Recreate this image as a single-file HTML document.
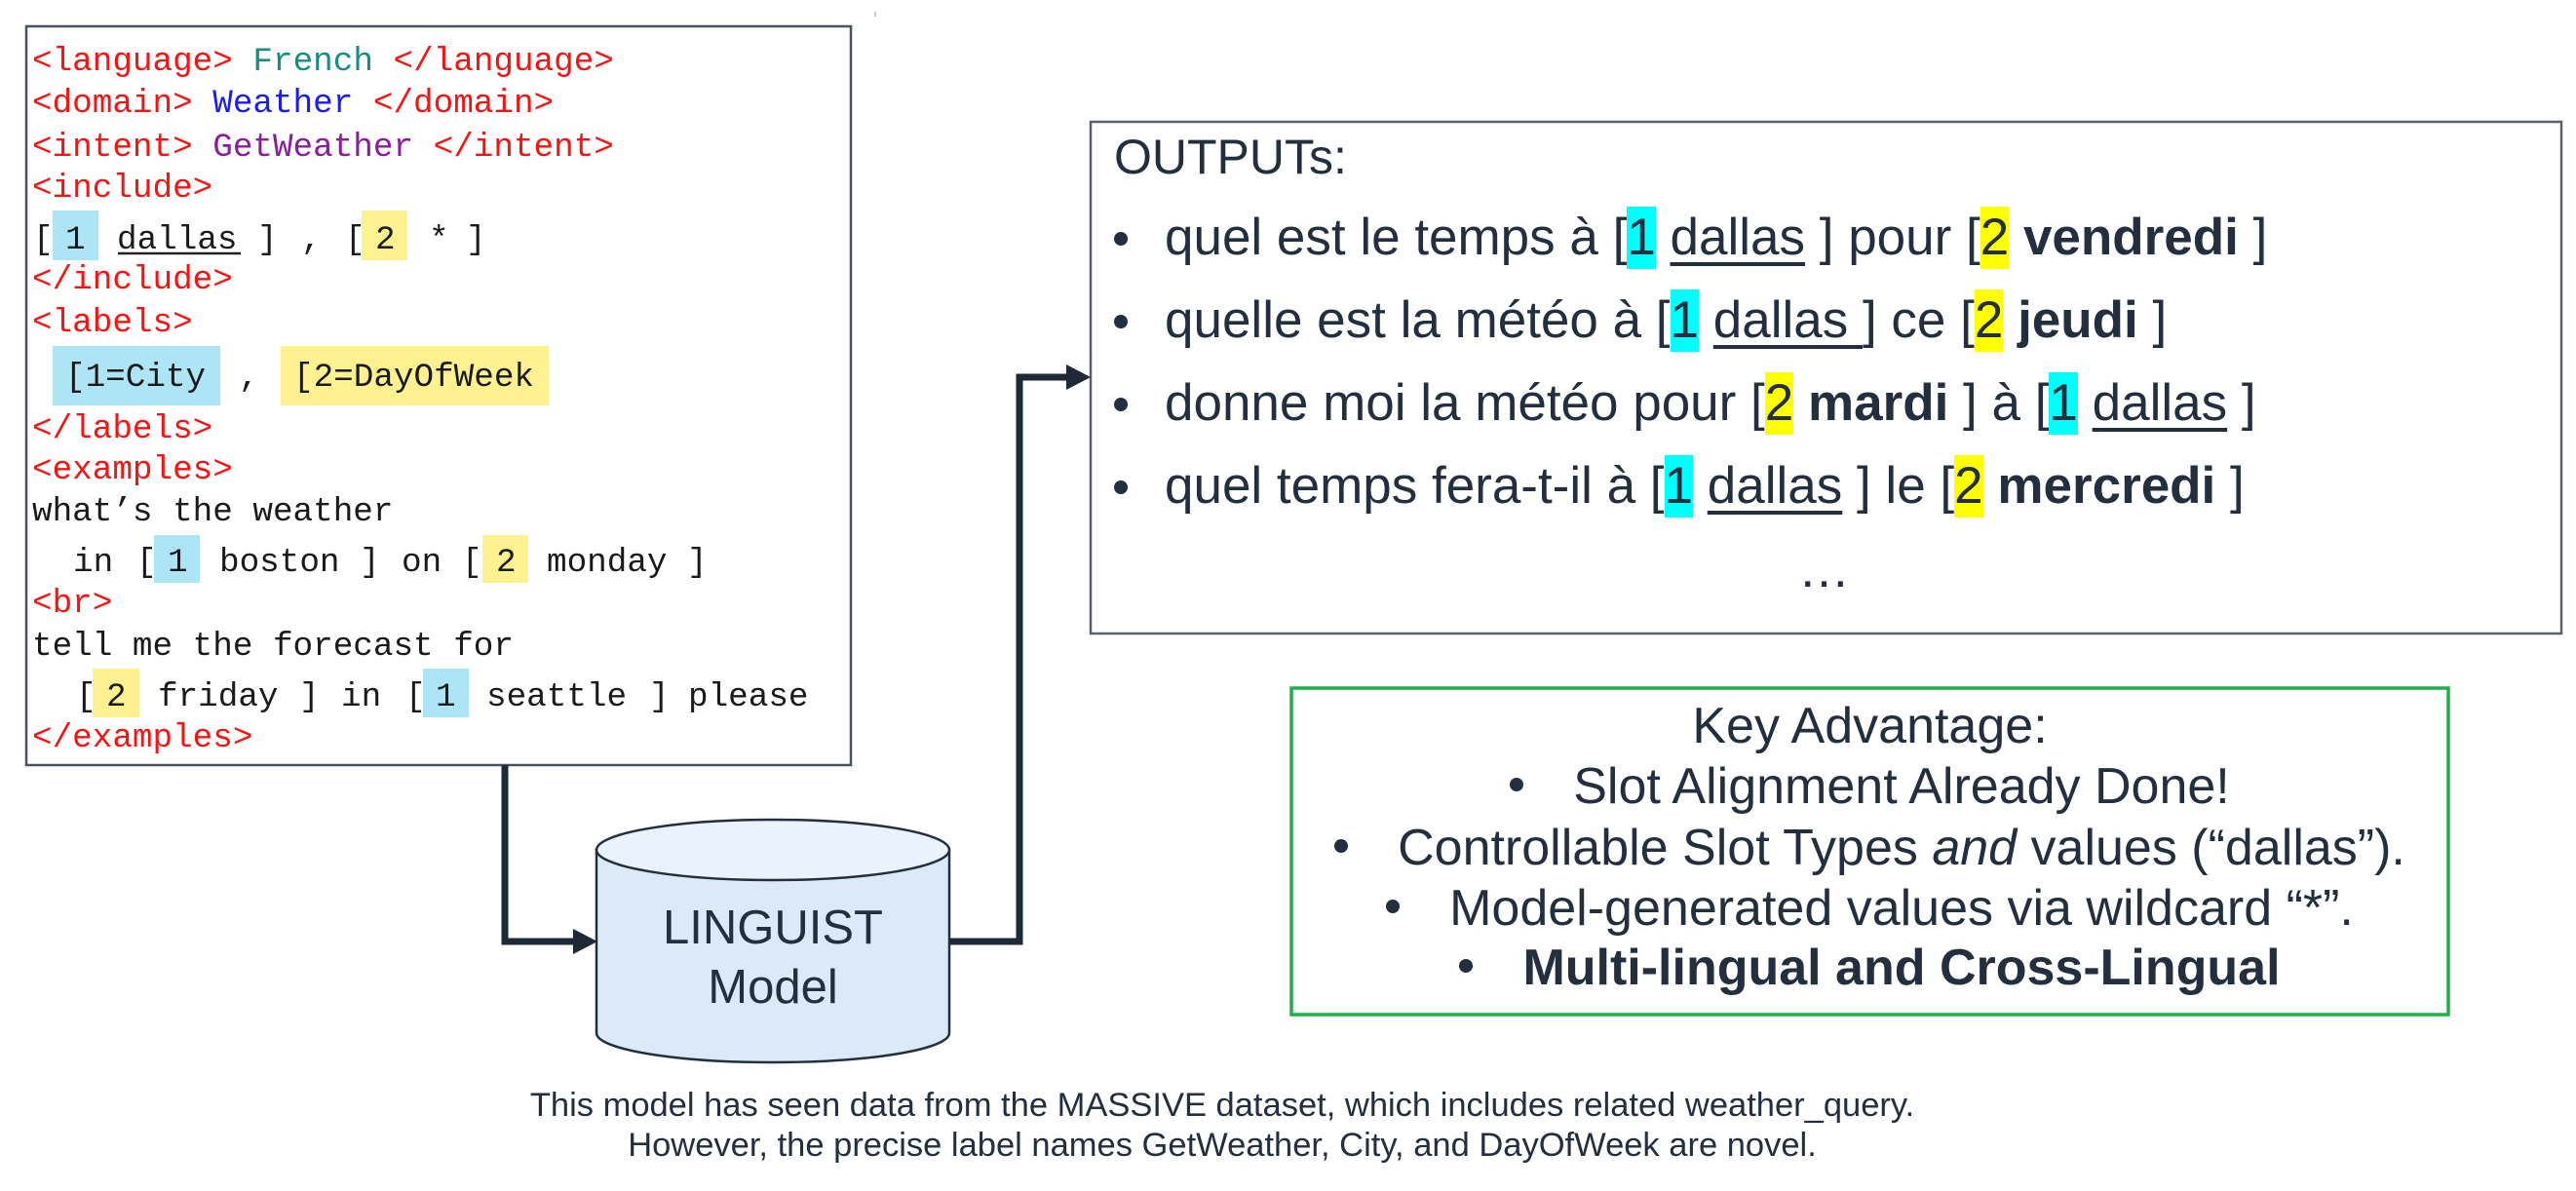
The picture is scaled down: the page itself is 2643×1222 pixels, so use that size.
<!DOCTYPE html>
<html>
<head>
<meta charset="utf-8">
<style>
  html,body{margin:0;padding:0;background:#fff;}
  body{width:2643px;height:1222px;position:relative;overflow:hidden;}
  svg{position:absolute;left:0;top:0;}
  .sans{font-family:"Liberation Sans",Arial,sans-serif;color:#232f3e;}
  .ol{position:absolute;left:1195px;font-size:53px;line-height:53px;white-space:pre;}
  .c1{background:#00ffff;padding:2px 0 3px;}
  .c2{background:#ffff00;padding:2px 0 3px;}
  .u{text-decoration:underline;text-decoration-thickness:4px;text-underline-offset:8px;}
  .kb{position:absolute;left:1325px;width:1187px;text-align:center;font-size:52px;line-height:52px;white-space:pre;}
  .dot{display:inline-block;width:14px;height:14px;border-radius:50%;background:#232f3e;margin-right:51px;vertical-align:12px;}
  .cap{position:absolute;left:0;width:2508px;text-align:center;font-size:34.5px;line-height:34.5px;white-space:pre;}
</style>
</head>
<body>
<svg width="2643" height="1222" viewBox="0 0 2643 1222" xmlns="http://www.w3.org/2000/svg">
  <!-- left input box -->
  <rect x="27" y="27" width="846" height="758" fill="#fff" stroke="#4a525e" stroke-width="2.5"/>
  <!-- highlights -->
  <rect x="54" y="216" width="47" height="51" fill="#aee5f6"/>
  <rect x="371" y="216" width="47" height="51" fill="#fdf28f"/>
  <rect x="54" y="355" width="172" height="61" fill="#aee5f6"/>
  <rect x="288" y="355" width="275" height="61" fill="#fdf28f"/>
  <rect x="158" y="549" width="47" height="49" fill="#aee5f6"/>
  <rect x="495" y="549" width="47" height="49" fill="#fdf28f"/>
  <rect x="95" y="686" width="48" height="50" fill="#fdf28f"/>
  <rect x="434" y="686" width="47" height="50" fill="#aee5f6"/>
  <line x1="121" y1="260" x2="247" y2="260" stroke="#222" stroke-width="2.5"/>

  <g font-family="'Liberation Mono', 'DejaVu Sans Mono', monospace" font-size="34.3" fill="#1a1a1a" xml:space="preserve">
    <text x="33" y="72"><tspan fill="#ff1010">&lt;language&gt; </tspan><tspan fill="#178c80">French</tspan><tspan fill="#ff1010"> &lt;/language&gt;</tspan></text>
    <text x="33" y="115"><tspan fill="#ff1010">&lt;domain&gt; </tspan><tspan fill="#1a1aff">Weather</tspan><tspan fill="#ff1010"> &lt;/domain&gt;</tspan></text>
    <text x="33" y="160"><tspan fill="#ff1010">&lt;intent&gt; </tspan><tspan fill="#8a1d9c">GetWeather</tspan><tspan fill="#ff1010"> &lt;/intent&gt;</tspan></text>
    <text x="33" y="202" fill="#ff1010">&lt;include&gt;</text>
    <text y="255"><tspan x="34">[</tspan><tspan x="67">1</tspan><tspan x="120">dallas</tspan><tspan x="264">]</tspan><tspan x="309">,</tspan><tspan x="354">[</tspan><tspan x="385">2</tspan><tspan x="440">*</tspan><tspan x="478">]</tspan></text>
    <text x="33" y="296" fill="#ff1010">&lt;/include&gt;</text>
    <text x="33" y="340" fill="#ff1010">&lt;labels&gt;</text>
    <text y="396"><tspan x="67">[1=City</tspan><tspan x="245">,</tspan><tspan x="301">[2=DayOfWeek</tspan></text>
    <text x="33" y="449" fill="#ff1010">&lt;/labels&gt;</text>
    <text x="33" y="491" fill="#ff1010">&lt;examples&gt;</text>
    <text x="33" y="534">what’s the weather</text>
    <text y="586"><tspan x="75">in</tspan><tspan x="140">[</tspan><tspan x="172">1</tspan><tspan x="225">boston</tspan><tspan x="369">]</tspan><tspan x="412">on</tspan><tspan x="474">[</tspan><tspan x="509">2</tspan><tspan x="561">monday</tspan><tspan x="705">]</tspan></text>
    <text x="33" y="628" fill="#ff1010">&lt;br&gt;</text>
    <text x="33" y="672">tell me the forecast for</text>
    <text y="724"><tspan x="78">[</tspan><tspan x="109">2</tspan><tspan x="162">friday</tspan><tspan x="307">]</tspan><tspan x="350">in</tspan><tspan x="416">[</tspan><tspan x="447">1</tspan><tspan x="499">seattle</tspan><tspan x="666">]</tspan><tspan x="706">please</tspan></text>
    <text x="33" y="766" fill="#ff1010">&lt;/examples&gt;</text>
  </g>

  <!-- outputs box -->
  <rect x="1119" y="125" width="1509" height="525" fill="none" stroke="#5a616c" stroke-width="2.5"/>
  <circle cx="1150" cy="245" r="7" fill="#232f3e"/>
  <circle cx="1150" cy="330" r="7" fill="#232f3e"/>
  <circle cx="1150" cy="415" r="7" fill="#232f3e"/>
  <circle cx="1150" cy="500" r="7" fill="#232f3e"/>

  <!-- key advantage box -->
  <rect x="1325" y="706" width="1187" height="335" fill="none" stroke="#1fb049" stroke-width="3.5"/>

  <!-- cylinder -->
  <path d="M612,872 V1060 A181,30 0 0 0 974,1060 V872 Z" fill="#dce9f6" stroke="#232f3e" stroke-width="2.5"/>
  <ellipse cx="793" cy="872" rx="181" ry="31" fill="#eaf2fb" stroke="#232f3e" stroke-width="2.5"/>
  <text x="793" y="968" text-anchor="middle" font-family="'Liberation Sans', Arial, sans-serif" font-size="49" fill="#232f3e">LINGUIST</text>
  <text x="793" y="1029" text-anchor="middle" font-family="'Liberation Sans', Arial, sans-serif" font-size="49" fill="#232f3e">Model</text>

  <!-- connectors -->
  <g stroke="#1e2836" stroke-width="7" fill="none" stroke-linejoin="miter" stroke-linecap="butt">
    <path d="M518,785 V966 H592"/>
    <path d="M974,966 H1046 V387 H1098"/>
  </g>
  <polygon points="613,966 588,953 588,979" fill="#1e2836"/>
  <polygon points="1119,387 1094,374 1094,400" fill="#1e2836"/>
  <rect x="897" y="12" width="2" height="5" fill="#ccc"/>
</svg>

<!-- outputs text -->
<div class="sans" style="position:absolute;left:1143px;top:136px;font-size:50px;line-height:50px;white-space:pre;">OUTPUTs:</div>
<div class="sans ol" style="top:217px;">quel est le temps à [<span class="c1">1</span> <span class="u">dallas</span> ] pour [<span class="c2">2</span> <b>vendredi</b> ]</div>
<div class="sans ol" style="top:302px;">quelle est la météo à [<span class="c1">1</span> <span class="u">dallas </span>] ce [<span class="c2">2</span> <b>jeudi</b> ]</div>
<div class="sans ol" style="top:387px;">donne moi la météo pour [<span class="c2">2</span> <b>mardi</b> ] à [<span class="c1">1</span> <span class="u">dallas</span> ]</div>
<div class="sans ol" style="top:472px;">quel temps fera-t-il à [<span class="c1">1</span> <span class="u">dallas</span> ] le [<span class="c2">2</span> <b>mercredi</b> ]</div>
<div class="sans" style="position:absolute;left:1845px;top:558px;font-size:53px;line-height:53px;">…</div>

<!-- key advantage text -->
<div class="sans kb" style="top:719px;">Key Advantage:</div>
<div class="sans kb" style="top:781px;"><span class="dot"></span>Slot Alignment Already Done!</div>
<div class="sans kb" style="top:844px;"><span class="dot"></span>Controllable Slot Types <i>and</i> values (“dallas”).</div>
<div class="sans kb" style="top:906px;"><span class="dot"></span>Model-generated values via wildcard “*”.</div>
<div class="sans kb" style="top:967px;"><span class="dot"></span><b>Multi-lingual and Cross-Lingual</b></div>

<!-- caption -->
<div class="sans cap" style="top:1117px;">This model has seen data from the MASSIVE dataset, which includes related weather_query.</div>
<div class="sans cap" style="top:1158px;">However, the precise label names GetWeather, City, and DayOfWeek are novel.</div>
</body>
</html>
